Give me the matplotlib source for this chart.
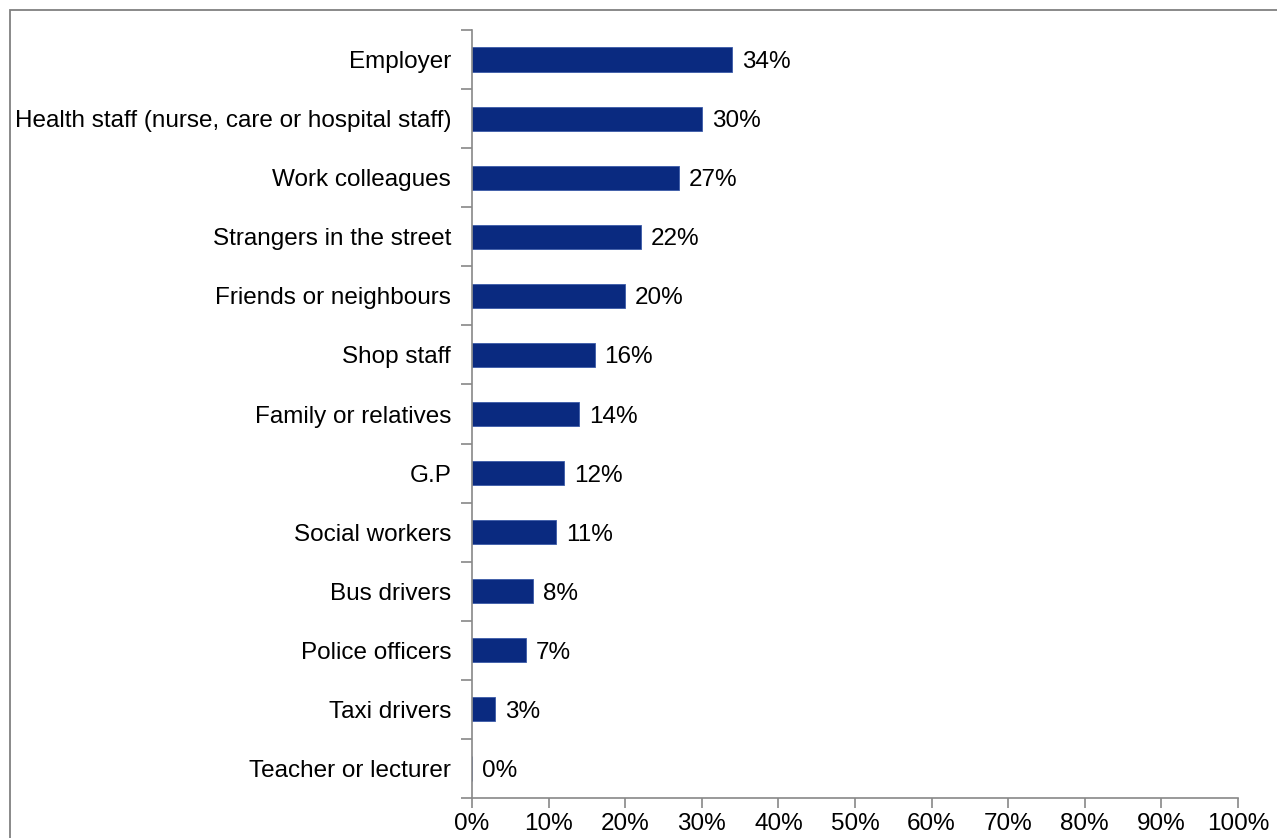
import matplotlib.pyplot as plt
import matplotlib.patches as patches
import numpy as np

plt.rcParams['font.family'] = ['Liberation Sans', 'DejaVu Sans']

categories = ['Employer', 'Health staff (nurse, care or hospital staff)', 'Work colleagues',
              'Strangers in the street', 'Friends or neighbours', 'Shop staff',
              'Family or relatives', 'G.P', 'Social workers', 'Bus drivers',
              'Police officers', 'Taxi drivers', 'Teacher or lecturer']
values = [34, 30, 27, 22, 20, 16, 14, 12, 11, 8, 7, 3, 0]
xticks = list(range(0, 101, 10))

W, H = 1277, 838
fs = 17.5
fig = plt.figure(figsize=(W / 100, H / 100), dpi=100)
ax = fig.add_axes([472 / W, 1 - 798 / H, (1238 - 472) / W, (798 - 30) / H])

y = np.arange(len(categories))
ax.barh(y, values, height=0.41, color='#0a2a80', edgecolor='#3a5aa8', linewidth=0.6)
for yi, v in zip(y, values):
    ax.annotate(f'{v}%', (v, yi), xytext=(10, 0), textcoords='offset pixels',
                va='center_baseline', ha='left', fontsize=fs, color='black')

ax.set_ylim(len(categories) - 0.5, -0.5)
ax.set_xlim(0, 100)
ax.set_yticks(y)
ax.set_yticklabels(categories, fontsize=fs, va='center_baseline')
ax.set_yticks(np.arange(-0.5, len(categories), 1), minor=True)
ax.tick_params(axis='y', which='major', length=0, pad=15)
ax.tick_params(axis='y', which='minor', length=8, color='#888888', width=1.2)
ax.set_xticks(xticks)
ax.set_xticklabels([f'{t}%' for t in xticks], fontsize=fs)
ax.tick_params(axis='x', length=7, color='#888888', width=1.2, pad=4)

for s in ['top', 'right']:
    ax.spines[s].set_visible(False)
for s in ['left', 'bottom']:
    ax.spines[s].set_color('#888888')
    ax.spines[s].set_linewidth(1.2)

# outer frame of the chart area, running off the right and bottom edges
frame = patches.Rectangle((10 / W, -0.1), 1.1, 1 - 10 / H + 0.1, transform=fig.transFigure,
                          fill=False, edgecolor='#808080', linewidth=1.3, clip_on=False)
fig.patches.append(frame)

fig.savefig('out.png', dpi=100)
